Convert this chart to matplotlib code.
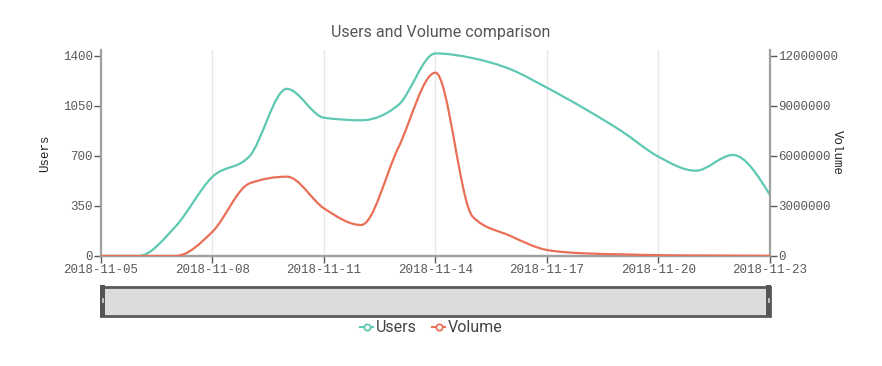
import numpy as np
import matplotlib
matplotlib.use("Agg")
import matplotlib.pyplot as plt
import matplotlib.dates as mdates
from matplotlib.path import Path
from matplotlib.patches import PathPatch, Rectangle
from matplotlib.lines import Line2D

# data (daily values)
dates = np.arange(np.datetime64('2018-11-05'), np.datetime64('2018-11-24'))
users = [0, 0, 205, 555, 700, 1170, 968, 950, 1057, 1418,
         1385, 1309, 1178, 1033, 875, 695, 597, 707, 427]
volume = [0, 0, 0, 1460000, 4360000, 4760000, 2860000, 1860000, 6500000, 11000000,
          2360000, 1220000, 360000, 160000, 100000, 50000, 30000, 20000, 10000]
user_ticks = [0, 350, 700, 1050, 1400]
volume_ticks = [0, 3000000, 6000000, 9000000, 12000000]

GREEN = '#5ec8b2'
RED = '#ea6f57'
MONO = 'Liberation Mono'


def sgn(v):
    return -1 if v < 0 else 1


def monotone_path(xs, ys):
    # same bezier construction as a monotone-x curve
    xs = np.asarray(xs, float)
    ys = np.asarray(ys, float)
    n = len(xs)
    h = np.diff(xs)
    s = np.diff(ys) / h
    t = np.zeros(n)
    for i in range(1, n - 1):
        s0, s1 = s[i - 1], s[i]
        p = (s0 * h[i] + s1 * h[i - 1]) / (h[i - 1] + h[i])
        t[i] = (sgn(s0) + sgn(s1)) * min(abs(s0), abs(s1), 0.5 * abs(p))
    t[0] = (3 * s[0] - t[1]) / 2
    t[-1] = (3 * s[-1] - t[-2]) / 2
    verts = [(xs[0], ys[0])]
    codes = [Path.MOVETO]
    for i in range(n - 1):
        dx = h[i] / 3
        verts += [(xs[i] + dx, ys[i] + dx * t[i]),
                  (xs[i + 1] - dx, ys[i + 1] - dx * t[i + 1]),
                  (xs[i + 1], ys[i + 1])]
        codes += [Path.CURVE4] * 3
    return Path(verts, codes)


W, H = 882, 366
fig = plt.figure(figsize=(W / 100, H / 100), dpi=100)
ax = fig.add_axes([101 / W, 1 - 256 / H, 669 / W, 206 / H])
ax2 = ax.twinx()

x = mdates.date2num(dates.astype('datetime64[D]').astype(object))

ax.add_patch(PathPatch(monotone_path(x, users), fill=False, edgecolor=GREEN, lw=1.6, zorder=3))
ax2.add_patch(PathPatch(monotone_path(x, volume), fill=False, edgecolor=RED, lw=1.6, zorder=3))

ax.set_xlim(x[0], x[-1])
ax.set_ylim(0, 1442)
ax2.set_ylim(0, 12360000)

ax.set_xticks(x[::3])
ax.xaxis.set_major_formatter(mdates.DateFormatter('%Y-%m-%d'))
ax.set_yticks(user_ticks)
ax.set_yticklabels([str(v) for v in user_ticks])
ax2.set_yticks(volume_ticks)
ax2.set_yticklabels([str(v) for v in volume_ticks])

ax.grid(axis='x', color='#e8e8e8', lw=1)
ax.set_axisbelow(True)

for a in (ax, ax2):
    a.spines['top'].set_visible(False)
    for sp in ('left', 'right', 'bottom'):
        a.spines[sp].set_color('#a0a0a0')
        a.spines[sp].set_linewidth(1.6)
    a.tick_params(colors='#5a5a5a', labelsize=9, length=5, width=1, pad=1)
    for lab in a.get_xticklabels() + a.get_yticklabels():
        lab.set_family(MONO)
ax2.spines['left'].set_visible(False)
ax.spines['right'].set_visible(False)

ax.set_ylabel('Users', family=MONO, fontsize=9, color='#222222')
ax.yaxis.set_label_coords((51 - 101) / 669, 0.5)
ax2.set_ylabel('Volume', family=MONO, fontsize=9, color='#222222', rotation=270, va='center')
ax2.yaxis.set_label_coords((837 - 101) / 669, 0.5)

fig.text(0.5, 1 - 32 / H, 'Users and Volume comparison', ha='center', va='center',
         family='Roboto', fontsize=11.5, color='#555555')

# brush strip and legend drawn in pixel coords
ov = fig.add_axes([0, 0, 1, 1])
ov.set_xlim(0, W)
ov.set_ylim(H, 0)
ov.axis('off')
ov.add_patch(Rectangle((101, 286.5), 669, 29, facecolor='#dcdcdc', edgecolor='#5a5a5a', lw=2))
for hx in (100, 766):
    ov.add_patch(Rectangle((hx, 285), 5, 32, facecolor='#555555', edgecolor='none'))
    ov.add_patch(Rectangle((hx + 1.5, 298), 2, 5, facecolor='#bbbbbb', edgecolor='none'))

legend_items = [('Users', GREEN, 360), ('Volume', RED, 432)]
for name, col, lx in legend_items:
    ov.add_line(Line2D([lx, lx + 13], [327, 327], color=col, lw=1.5))
    ov.add_line(Line2D([lx + 6.5], [327], marker='o', markersize=4.5, markerfacecolor='white',
                       markeredgecolor=col, markeredgewidth=1.3))
    ov.text(lx + 16, 327, name, ha='left', va='center', family='Roboto', fontsize=11.5, color='#444444')

fig.savefig('out.png', dpi=100)
